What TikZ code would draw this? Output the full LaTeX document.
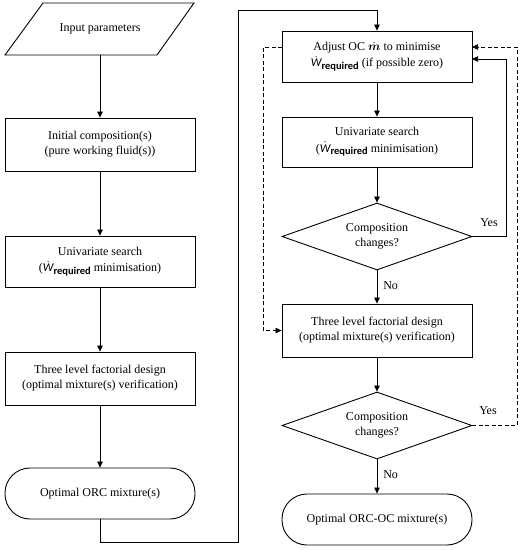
\documentclass[tikz,border=0pt]{standalone}
\usepackage{fontspec}
\usepackage{amsmath}
\setmainfont{Liberation Serif}
\newfontfamily\calfont{Carlito}
\usetikzlibrary{shapes.geometric,arrows.meta}
\newcommand{\Wreq}{$\dot{\text{\calfont\itshape W}}$\raisebox{-2.5pt}{\calfont\bfseries\fontsize{10.5}{10.5}\selectfont required}}
\begin{document}
\begin{tikzpicture}[x=1pt,y=-1pt,
  font=\fontsize{12}{15}\selectfont,
  box/.style={draw, line width=0.9pt, minimum width=190pt, minimum height=52pt, align=center, inner sep=2pt},
  term/.style={box, rounded corners=25pt},
  dec/.style={diamond, draw, line width=0.9pt, minimum width=190pt, minimum height=67pt, shape aspect=2.8, inner sep=0pt, align=center},
  conn/.style={draw, line width=0.6pt, -{Triangle[length=6pt,width=5.5pt]}},
  dconn/.style={conn, dashed, dash pattern=on 4pt off 2.5pt},
  lbl/.style={inner sep=1pt}]
\useasboundingbox (0,0) rectangle (520,550);
% left column
\node[minimum width=151pt, minimum height=52pt, inner sep=0pt] (in) at (100,29) {Input parameters};
\draw[line width=0.9pt] (43,3) -- (194,3) -- (157,55) -- (5,55) -- cycle;
\node[box, minimum height=53pt] (b1) at (100,144.5) {Initial composition(s)\\(pure working fluid(s))};
\node[box, minimum height=51pt] (b2) at (100,261.5) {Univariate search\\[1.5pt](\Wreq{} minimisation)};
\node[box, minimum height=53pt] (b3) at (100,378.5) {Three level factorial design\\(optimal mixture(s) verification)};
\node[term, minimum height=51pt] (t1) at (100,493.5) {Optimal ORC mixture(s)};
% right column
\node[box, minimum height=51pt] (r1) at (377,56.5) {Adjust OC $\dot{\boldsymbol{m}}$ to minimise\\[1.5pt]\Wreq{} (if possible zero)};
\node[box, minimum height=50pt] (r2) at (377,142) {Univariate search\\[1.5pt](\Wreq{} minimisation)};
\node[dec] (d1) at (377,236.5) {Composition\\changes?};
\node[box, minimum height=53pt] (r3) at (377,330.5) {Three level factorial design\\(optimal mixture(s) verification)};
\node[dec] (d2) at (377,425.5) {Composition\\changes?};
\node[term, minimum height=51pt] (t2) at (377,519.5) {Optimal ORC-OC mixture(s)};
% helper coordinates
\coordinate (c1) at (100,542);
\coordinate (c2) at (238,542);
\coordinate (c3) at (238,10);
\coordinate (c4) at (377,10);
\coordinate (y1a) at (506,236.5);
\coordinate (y1b) at (506,59);
\coordinate (y1c) at (472,59);
\coordinate (y2a) at (517,425.5);
\coordinate (y2b) at (517,47);
\coordinate (y2c) at (472,47);
\coordinate (s0) at (282,47);
\coordinate (s1) at (263,47);
\coordinate (s2) at (263,330.5);
% connectors
\draw[conn] (in.south) -- (b1.north);
\draw[conn] (b1) -- (b2);
\draw[conn] (b2) -- (b3);
\draw[conn] (b3) -- (t1);
\draw[conn] (t1.south) -- (c1) -- (c2) -- (c3) -- (c4) -- (r1.north);
\draw[conn] (r1) -- (r2);
\draw[conn] (r2) -- (d1);
\draw[conn] (d1.south) -- node[lbl, right, pos=0.45, xshift=5pt] (no1) {No} (r3.north);
\draw[conn] (r3) -- (d2);
\draw[conn] (d2.south) -- node[lbl, right, pos=0.45, xshift=5pt] (no2) {No} (t2.north);
\draw[conn] (d1.east) -- (y1a) -- (y1b) -- (y1c);
\node[lbl] (yes1) at (489,223) {Yes};
\draw[dconn] (d2.east) -- (y2a) -- (y2b) -- (y2c);
\node[lbl] (yes2) at (488,411) {Yes};
\draw[dconn] (s0) -- (s1) -- (s2) -- (r3.west);
\end{tikzpicture}
\end{document}
